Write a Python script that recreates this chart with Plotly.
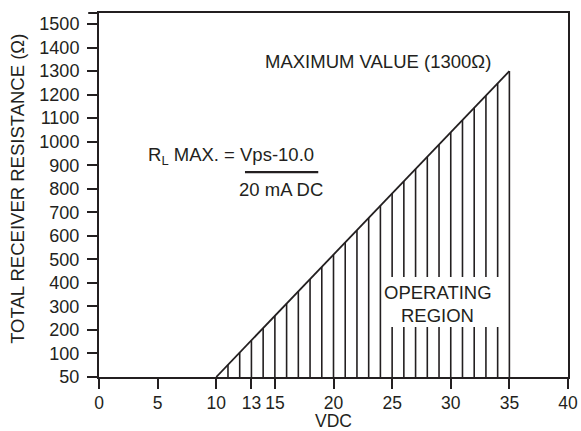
import numpy as np
import plotly.graph_objects as go

# --- data ---
vdc_boundary = [10, 35]          # operating-region boundary, x (VDC)
res_boundary = [0, 1300]         # boundary, y (axis units; bottom labelled "50")
hatch_volts = list(range(11, 36))  # vertical hatch positions (VDC)

x_tick_vals = [0, 5, 10, 13, 15, 20, 25, 30, 35, 40]
y_tick_vals = [0, 100, 200, 300, 400, 500, 600, 700, 800, 900, 1000, 1100, 1200, 1300, 1400, 1500]
y_tick_text = ["50", "100", "200", "300", "400", "500", "600", "700", "800", "900",
               "1000", "1100", "1200", "1300", "1400", "1500"]

INK = "#231f20"
FONT = "Liberation Sans, Arial, sans-serif"

# hatch segments from the axis up to the boundary line
hx, hy = [], []
tops = np.interp(hatch_volts, vdc_boundary, res_boundary)
for v, t in zip(hatch_volts, tops):
    hx += [v, v, None]
    hy += [0, t, None]

fig = go.Figure()
fig.add_trace(go.Scatter(x=hx, y=hy, mode="lines",
                         line=dict(color=INK, width=1.6), hoverinfo="skip",
                         showlegend=False))
fig.add_trace(go.Scatter(x=vdc_boundary, y=res_boundary, mode="lines",
                         line=dict(color=INK, width=1.8), showlegend=False))

# white box behind "OPERATING REGION"
fig.add_shape(type="rect", x0=24.55, x1=34.45, y0=212, y1=425,
              fillcolor="white", line=dict(width=0), layer="above")
# fraction bar
fig.add_shape(type="line", x0=12.45, x1=18.7, y0=871, y1=871,
              line=dict(color=INK, width=2.2), layer="above")
# top-left frame extension
fig.add_shape(type="line", xref="paper", yref="paper", x0=-0.023, x1=0, y0=1, y1=1,
              line=dict(color=INK, width=2))

ann_font = dict(family=FONT, size=18.5, color=INK)
fig.add_annotation(x=14.0, y=1340, text="MAXIMUM VALUE (1300\u03a9)", showarrow=False,
                   xanchor="left", yanchor="middle", font=ann_font)
fig.add_annotation(x=4.05, y=940,
                   text="R<sub style='font-size:17px'>L</sub> MAX. = Vps-10.0",
                   showarrow=False, xanchor="left", yanchor="middle", font=ann_font)
fig.add_annotation(x=15.48, y=799, text="20 mA DC", showarrow=False,
                   xanchor="center", yanchor="middle", font=ann_font)
fig.add_annotation(x=28.9, y=361, text="OPERATING", showarrow=False,
                   xanchor="center", yanchor="middle", font=ann_font)
fig.add_annotation(x=28.9, y=263, text="REGION", showarrow=False,
                   xanchor="center", yanchor="middle", font=ann_font)

# axis titles
fig.add_annotation(xref="paper", yref="paper", x=0.5, y=-0.121, text="VDC",
                   showarrow=False, xanchor="center", yanchor="middle",
                   font=dict(family=FONT, size=17.5, color=INK))
fig.add_annotation(xref="paper", yref="paper", x=-0.173, y=0.5165,
                   text="TOTAL RECEIVER RESISTANCE (\u03a9)", textangle=-90,
                   showarrow=False, xanchor="center", yanchor="middle",
                   font=dict(family=FONT, size=18.5, color=INK))

fig.update_layout(
    width=581, height=431,
    margin=dict(l=99, r=13, t=13, b=54, autoexpand=False),
    paper_bgcolor="white", plot_bgcolor="white",
    font=dict(family=FONT, size=18, color=INK),
    showlegend=False,
)
fig.update_xaxes(range=[0, 40], tickvals=x_tick_vals, showgrid=False, zeroline=False,
                 automargin=False,
                 showline=True, mirror=True, linecolor=INK, linewidth=2,
                 ticks="outside", ticklen=10, tickwidth=2, tickcolor=INK,
                 ticklabelstandoff=-1,
                 tickfont=dict(family=FONT, size=17.5, color=INK))
fig.update_yaxes(range=[0, 1547], tickvals=y_tick_vals, ticktext=y_tick_text,
                 showgrid=False, zeroline=False, automargin=False,
                 showline=True, mirror=True, linecolor=INK, linewidth=2,
                 ticks="outside", ticklen=10, tickwidth=2, tickcolor=INK,
                 ticklabelstandoff=4,
                 tickfont=dict(family=FONT, size=18, color=INK))

fig.write_html("out.html",
               config={"displayModeBar": False},
               post_script="document.body.style.margin='0';"
                           "document.body.style.overflow='hidden';")
